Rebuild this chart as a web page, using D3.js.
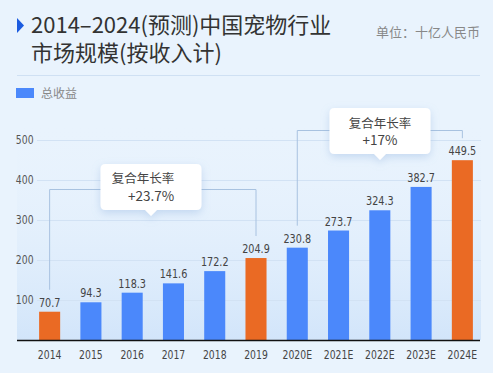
<!DOCTYPE html>
<html>
<head>
<meta charset="utf-8">
<script src="https://cdn.jsdelivr.net/npm/d3@7"></script>
<style>
  body { margin: 0; background: #e9f3fd; }
  svg { display: block; }
  .cjk { font-family: "Noto Sans CJK SC", "Noto Sans", sans-serif; }
  .num { font-family: "DejaVu Sans Condensed", "DejaVu Sans", sans-serif; }
</style>
</head>
<body>
<svg id="chart" width="493" height="373"></svg>
<script>
// data
const years = ['2014', '2015', '2016', '2017', '2018', '2019', '2020E', '2021E', '2022E', '2023E', '2024E'];
const revenue = [70.7, 94.3, 118.3, 141.6, 172.2, 204.9, 230.8, 273.7, 324.3, 382.7, 449.5];
const highlight = ['2014', '2019', '2024E'];
const yTicks = [100, 200, 300, 400, 500];
const cagr = [
    { from: '2014', to: '2019', label: '+23.7%' },
    { from: '2020E', to: '2024E', label: '+17%' }
];

const svg = d3.select('#chart');
const blue = '#4b88fb', orange = '#ea6a24';
const squeeze = 'scale(0.86,1)'; // narrow DIN-like digits

let x = d3.scaleBand().domain(years).range([29, 483]).paddingInner(0.49).paddingOuter(0.245);
let y = d3.scaleLinear().domain([0, 500]).range([340, 140]);

// plot background gradient
let defs = svg.append('defs');
let grad = defs.append('linearGradient').attr('id', 'bg').attr('x1', 0).attr('y1', 0).attr('x2', 0).attr('y2', 1);
grad.append('stop').attr('offset', '0%').attr('stop-color', '#e9f3fd').attr('stop-opacity', 0);
grad.append('stop').attr('offset', '100%').attr('stop-color', '#d2e5fa');
let shadow = defs.append('filter').attr('id', 'shadow').attr('x', '-30%').attr('y', '-30%').attr('width', '160%').attr('height', '170%');
shadow.append('feDropShadow').attr('dx', 0).attr('dy', 3).attr('stdDeviation', 4)
    .attr('flood-color', '#7fa6d8').attr('flood-opacity', 0.35);

svg.append('rect').attr('x', 17).attr('y', 120).attr('width', 464).attr('height', 220).attr('fill', 'url(#bg)');

// header
svg.append('path').attr('d', 'M17,18 L24,25.5 L17,33 Z').attr('fill', '#1b5be0');
svg.append('text').attr('class', 'cjk').attr('x', 31).attr('y', 33)
    .attr('font-size', 22).attr('fill', '#333').text('2014–2024(预测)中国宠物行业');
svg.append('text').attr('class', 'cjk').attr('x', 31).attr('y', 61)
    .attr('font-size', 22).attr('fill', '#333').text('市场规模(按收入计)');
svg.append('text').attr('class', 'cjk').attr('x', 480).attr('y', 37).attr('text-anchor', 'end')
    .attr('font-size', 13).attr('fill', '#888').text('单位：十亿人民币');
svg.append('line').attr('x1', 17).attr('x2', 480).attr('y1', 75.5).attr('y2', 75.5)
    .attr('stroke', '#cfe0f3');

// legend
svg.append('rect').attr('x', 16).attr('y', 88).attr('width', 18).attr('height', 10).attr('fill', blue);
svg.append('text').attr('class', 'cjk').attr('x', 41).attr('y', 97.5)
    .attr('font-size', 12).attr('fill', '#888').text('总收益');

// grid + y axis labels
let yAxis = svg.append('g').attr('transform', 'translate(37,0)')
    .call(d3.axisLeft(y).tickValues(yTicks).tickSize(-444).tickPadding(4));
yAxis.select('.domain').remove();
yAxis.selectAll('.tick line').attr('stroke', '#d2e2f4');
yAxis.selectAll('.tick text').attr('class', 'num').attr('font-size', 12).attr('fill', '#555')
    .attr('transform', squeeze);

// brackets
cagr.forEach((c, i) => {
    let x0 = x(c.from) + x.bandwidth() / 2;
    let x1 = x(c.to) + x.bandwidth() / 2;
    let v0 = revenue[years.indexOf(c.from)];
    let v1 = revenue[years.indexOf(c.to)];
    let top = i == 0 ? 189.5 : 130.5;
    svg.append('path')
        .attr('d', `M${x0},${y(v0) - 22} V${top} H${x1} V${y(v1) - 22}`)
        .attr('fill', 'none').attr('stroke', '#a8c2e0').attr('stroke-width', 1);
});

// bars
svg.selectAll('.bar').data(years).join('rect')
    .attr('class', 'bar')
    .attr('x', d => x(d))
    .attr('width', x.bandwidth())
    .attr('y', (d, i) => y(revenue[i]))
    .attr('height', (d, i) => y(0) - y(revenue[i]))
    .attr('fill', d => highlight.includes(d) ? orange : blue);

svg.selectAll('.val').data(years).join('g')
    .attr('class', 'val')
    .attr('transform', (d, i) => `translate(${x(d) + x.bandwidth() / 2},${y(revenue[i]) - 5})`)
    .append('text')
    .attr('class', 'num')
    .attr('transform', squeeze)
    .attr('text-anchor', 'middle')
    .attr('font-size', 12.5).attr('fill', '#444')
    .text((d, i) => revenue[i].toFixed(1));

// x axis
let xAxis = svg.append('g').attr('transform', 'translate(0,340)')
    .call(d3.axisBottom(x).tickSize(0).tickPadding(10));
xAxis.select('.domain').attr('d', 'M17,0.5 H480').attr('stroke', '#111').attr('stroke-width', 1.5);
xAxis.selectAll('.tick text').attr('class', 'num').attr('font-size', 12).attr('fill', '#444')
    .attr('transform', squeeze);

// callouts
let boxes = [
    { cx: 151, top: 164, w: 101, h: 46, line1x: 143, line2x: 151, y1: 183, y2: 201 },
    { cx: 380, top: 108, w: 101, h: 46, line1x: 380, line2x: 380, y1: 128, y2: 145 }
];
boxes.forEach((b, i) => {
    let l = b.cx - b.w / 2, r = b.cx + b.w / 2, bt = b.top + b.h, rr = 5;
    let d = `M${l + rr},${b.top} H${r - rr} Q${r},${b.top} ${r},${b.top + rr} V${bt - rr} Q${r},${bt} ${r - rr},${bt}` +
        ` H${b.cx + 6} L${b.cx},${bt + 6} L${b.cx - 6},${bt} H${l + rr} Q${l},${bt} ${l},${bt - rr} V${b.top + rr} Q${l},${b.top} ${l + rr},${b.top} Z`;
    svg.append('path').attr('d', d).attr('fill', '#fff').attr('filter', 'url(#shadow)');
    svg.append('text').attr('class', 'cjk').attr('x', b.line1x).attr('y', b.y1).attr('text-anchor', 'middle')
        .attr('font-size', 12.5).attr('fill', '#444').text('复合年长率');
    svg.append('text').attr('class', 'cjk').attr('x', b.line2x).attr('y', b.y2).attr('text-anchor', 'middle')
        .attr('font-size', 13.5).attr('fill', '#444').text(cagr[i].label);
});
</script>
</body>
</html>
